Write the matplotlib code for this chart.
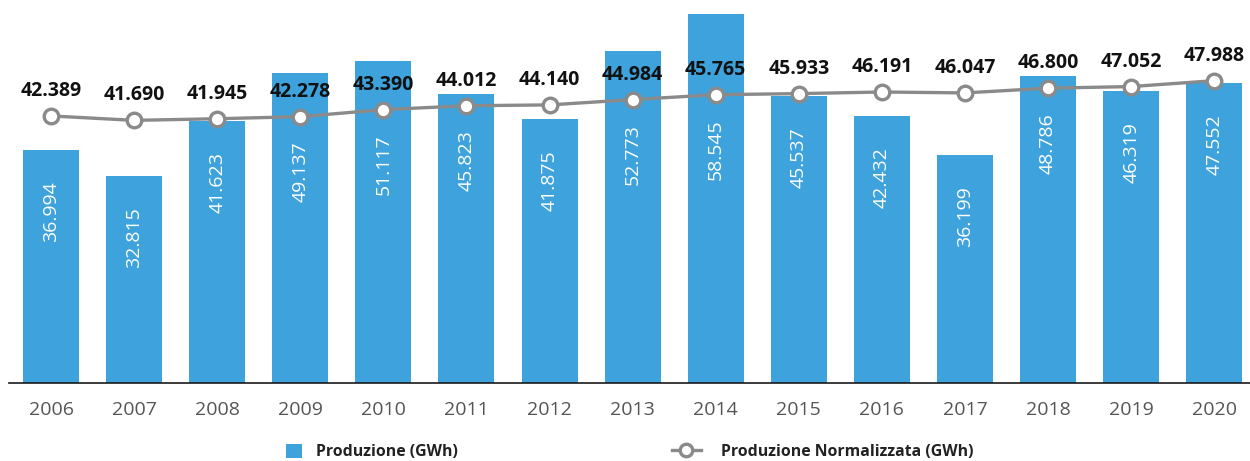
import matplotlib
matplotlib.use("Agg")
import matplotlib.pyplot as plt
from matplotlib.patches import Patch
from matplotlib.lines import Line2D

years = ["2006", "2007", "2008", "2009", "2010", "2011", "2012", "2013",
         "2014", "2015", "2016", "2017", "2018", "2019", "2020"]
produzione = [36.994, 32.815, 41.623, 49.137, 51.117, 45.823, 41.875, 52.773,
              58.545, 45.537, 42.432, 36.199, 48.786, 46.319, 47.552]
normalizzata = [42.389, 41.690, 41.945, 42.278, 43.390, 44.012, 44.140, 44.984,
                45.765, 45.933, 46.191, 46.047, 46.800, 47.052, 47.988]

BLUE = "#3ea2dc"
GREY = "#8a8a8a"


def fmt(v):
    return f"{v:.3f}"


fig = plt.figure(figsize=(12.5, 4.61), dpi=100)
ax = fig.add_axes([9 / 1250, 78 / 461, 1 - 9 / 1250, 378 / 461])

x = list(range(len(years)))
ax.bar(x, produzione, width=0.674, color=BLUE, zorder=2)
ax.plot(x, normalizzata, color=GREY, lw=2.4, marker="o", ms=10.5,
        mfc="white", mec=GREY, mew=2.4, zorder=3)

# white labels inside the bars, kept clear of the line
for i, (b, n) in enumerate(zip(produzione, normalizzata)):
    if n < b:
        top, off = n, -25
    else:
        top, off = b, -31
    ax.annotate(fmt(b), (i, top), xytext=(0, off * 0.72), textcoords="offset points",
                rotation=90, ha="center", va="top", color="white",
                fontsize=14, family="Open Sans", zorder=4)

# bold labels above the markers
for i, n in enumerate(normalizzata):
    ax.annotate(fmt(n), (i, n), xytext=(0, 14.4), textcoords="offset points",
                ha="center", va="baseline", color="#111111",
                fontsize=14, fontweight="bold", family="Open Sans", zorder=4)

ax.set_xlim(-0.506, 14.43)
ax.set_ylim(0, 60)
ax.set_xticks(x)
ax.set_xticklabels(years, family="Open Sans", fontsize=14, color="#555555")
ax.tick_params(axis="x", length=0, pad=13)
ax.set_yticks([])
for side in ("left", "right", "top"):
    ax.spines[side].set_visible(False)
ax.spines["bottom"].set_color("#1a1a1a")
ax.spines["bottom"].set_linewidth(1.2)
ax.spines["bottom"].set_zorder(5)

legend_font = {"family": "Open Sans", "weight": "bold", "size": 11.4}
h1 = Patch(facecolor=BLUE, edgecolor="none")
h2 = Line2D([], [], color=GREY, lw=2.4, marker="o", ms=9,
            mfc="white", mec=GREY, mew=2.4)
fig.legend(handles=[h1], labels=["Produzione (GWh)"], loc="center left",
           bbox_to_anchor=(286 / 1250, 1 - 452 / 461), frameon=False,
           borderpad=0, borderaxespad=0, prop=legend_font,
           handlelength=1.0, handleheight=1.0, handletextpad=0.9,
           labelcolor="#222222")
fig.legend(handles=[h2], labels=["Produzione Normalizzata (GWh)"], loc="center left",
           bbox_to_anchor=(672 / 1250, 1 - 452 / 461), frameon=False,
           borderpad=0, borderaxespad=0, prop=legend_font,
           handlelength=1.8, handletextpad=1.3, labelcolor="#222222")

fig.savefig("out.png", dpi=100)
